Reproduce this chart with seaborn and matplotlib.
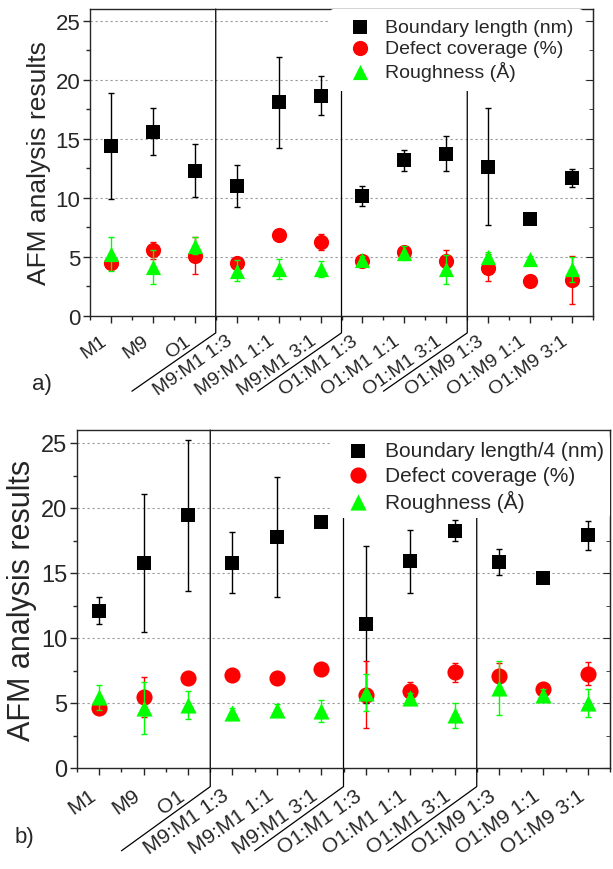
import matplotlib
matplotlib.use("Agg")
import matplotlib.pyplot as plt
from matplotlib.ticker import MultipleLocator
from matplotlib.transforms import blended_transform_factory, ScaledTranslation
import seaborn as sns

sns.set_style("ticks")
plt.rcParams['font.family'] = ['Liberation Sans', 'DejaVu Sans']

categories = ["M1", "M9", "O1", "M9:M1 1:3", "M9:M1 1:1", "M9:M1 3:1",
              "O1:M1 1:3", "O1:M1 1:1", "O1:M1 3:1", "O1:M9 1:3", "O1:M9 1:1", "O1:M9 3:1"]

# panel a)
bl_a = [14.4, 15.6, 12.3, 11.0, 18.1, 18.65, 10.15, 13.2, 13.75, 12.65, 8.2, 11.7]
bl_a_err = [4.5, 2.0, 2.25, 1.8, 3.85, 1.65, 0.85, 0.9, 1.5, 4.95, 0.2, 0.75]
dc_a = [4.5, 5.55, 5.1, 4.5, 6.9, 6.25, 4.65, 5.45, 4.65, 4.1, 2.95, 3.05]
dc_a_err = [0.4, 0.75, 1.55, 0.3, 0.2, 0.7, 0.3, 0.3, 0.9, 1.15, 0.1, 2.0]
rg_a = [5.25, 4.15, 5.95, 3.85, 4.0, 3.97, 4.75, 5.35, 3.95, 5.0, 4.85, 3.95]
rg_a_err = [1.45, 1.4, 0.7, 0.9, 0.85, 0.7, 0.3, 0.6, 1.2, 0.4, 0.2, 1.05]

# panel b)
bl_b = [12.1, 15.75, 19.45, 15.8, 17.75, 18.9, 11.05, 15.9, 18.25, 15.85, 14.6, 17.9]
bl_b_err = [1.05, 5.3, 5.8, 2.35, 4.6, 0.2, 6.05, 2.4, 0.8, 1.0, 0.1, 1.13]
dc_b = [4.6, 5.45, 6.9, 7.15, 6.95, 7.6, 5.65, 5.9, 7.35, 7.1, 6.1, 7.25]
dc_b_err = [0.3, 1.55, 0.2, 0.2, 0.2, 0.2, 2.6, 0.7, 0.75, 1.0, 0.3, 0.9]
rg_b = [5.45, 4.6, 4.85, 4.2, 4.5, 4.4, 5.8, 5.4, 4.05, 6.15, 5.65, 5.0]
rg_b_err = [0.95, 2.0, 1.1, 0.4, 0.4, 0.85, 1.4, 0.4, 0.95, 2.05, 0.4, 1.05]

labels_a = ["Boundary length (nm)", "Defect coverage (%)", "Roughness (Å)"]
labels_b = ["Boundary length/4 (nm)", "Defect coverage (%)", "Roughness (Å)"]


def draw_panel(fig, ax, data, labels, sizes, fs, leg_anchor):
    x = list(range(len(categories)))
    ax.set_xlim(-0.5, len(categories) - 0.5)
    ax.set_ylim(0, 26)
    for v in [5, 10, 15, 20, 25]:
        ax.axhline(v, color='#999999', lw=0.8, ls=(0, (2, 2.5)), zorder=0)

    styles = [('s', 'black'), ('o', '#ff0000'), ('^', '#00ff00')]
    for i, ((vals, err), (mk, col), lab, sz) in enumerate(zip(data, styles, labels, sizes)):
        ax.errorbar(x, vals, yerr=err, fmt='none', ecolor=col, elinewidth=1,
                    capsize=2.5, capthick=1, zorder=2 + 2 * i)
        sns.scatterplot(x=x, y=vals, marker=mk, color=col, s=sz, linewidth=0,
                        label=lab, ax=ax, zorder=3 + 2 * i)

    ax.xaxis.set_minor_locator(MultipleLocator(0.5))
    ax.yaxis.set_major_locator(MultipleLocator(5))
    ax.yaxis.set_minor_locator(MultipleLocator(2.5))
    ax.tick_params(axis='x', which='major', direction='out', length=5, width=1, pad=fs['xpad'])
    ax.tick_params(axis='x', which='minor', direction='out', length=3, width=1)
    ax.tick_params(axis='y', which='major', direction='out', length=5, width=1,
                   labelsize=fs['ytick'], pad=2)
    ax.tick_params(axis='y', which='minor', direction='out', length=3, width=1)
    right = ax.secondary_yaxis('right')
    right.yaxis.set_major_locator(MultipleLocator(5))
    right.yaxis.set_minor_locator(MultipleLocator(2.5))
    right.tick_params(which='major', direction='in', length=5, labelright=False)
    right.tick_params(which='minor', direction='in', length=3)
    for sp in ax.spines.values():
        sp.set_linewidth(1)
        sp.set_visible(True)
    ax.set_ylabel("AFM analysis results", fontsize=fs['ylabel'], labelpad=3)
    ax.set_xlabel("")

    # rotated category labels, nudged so they sit between the separator lines
    ax.set_xticks(x)
    ax.set_xticklabels(categories, rotation=35, ha='right', va='top',
                       rotation_mode='anchor', fontsize=fs['xtick'])
    shift = ScaledTranslation(-0.11, 0.02, fig.dpi_scale_trans)
    for lbl in ax.get_xticklabels():
        lbl.set_transform(lbl.get_transform() + shift)

    trans = blended_transform_factory(ax.transData, ax.transAxes)
    for sx, top in [(2.5, 1.0), (5.5, 0.745), (8.5, 0.745)]:
        ax.plot([sx - 2, sx, sx], [-0.245, -0.055, top], color='black', lw=0.9,
                transform=trans, clip_on=False, zorder=1)

    leg = ax.legend(loc='upper right', bbox_to_anchor=leg_anchor, frameon=True,
                    facecolor='white', edgecolor='none', framealpha=1,
                    fontsize=fs['legend'], handletextpad=0.3,
                    labelspacing=fs['legspace'], borderaxespad=0, borderpad=fs['legpad'])
    leg.set_zorder(20)


fig = plt.figure(figsize=(6.13, 8.7), dpi=100)
ax_a = fig.add_axes([90 / 613, 1 - 317 / 870, (593 - 90) / 613, (317 - 10) / 870])
ax_b = fig.add_axes([77 / 613, 1 - 769 / 870, (610 - 77) / 613, (769 - 431) / 870])

draw_panel(fig, ax_a, [(bl_a, bl_a_err), (dc_a, dc_a_err), (rg_a, rg_a_err)],
           labels_a, [90, 120, 120],
           {'xtick': 14, 'xpad': 8, 'ytick': 16, 'ylabel': 19, 'legend': 14,
            'legspace': 0.18, 'legpad': 0.5}, (0.98, 1.0))
draw_panel(fig, ax_b, [(bl_b, bl_b_err), (dc_b, dc_b_err), (rg_b, rg_b_err)],
           labels_b, [105, 135, 135],
           {'xtick': 15, 'xpad': 9, 'ytick': 17, 'ylabel': 22, 'legend': 15,
            'legspace': 0.25, 'legpad': 0.3}, (1.0, 0.985))

fig.text(32 / 613, 1 - 385 / 870, "a)", fontsize=16, va='center', ha='left')
fig.text(15 / 613, 1 - 838 / 870, "b)", fontsize=16, va='center', ha='left')

fig.savefig("out.png", dpi=100)
